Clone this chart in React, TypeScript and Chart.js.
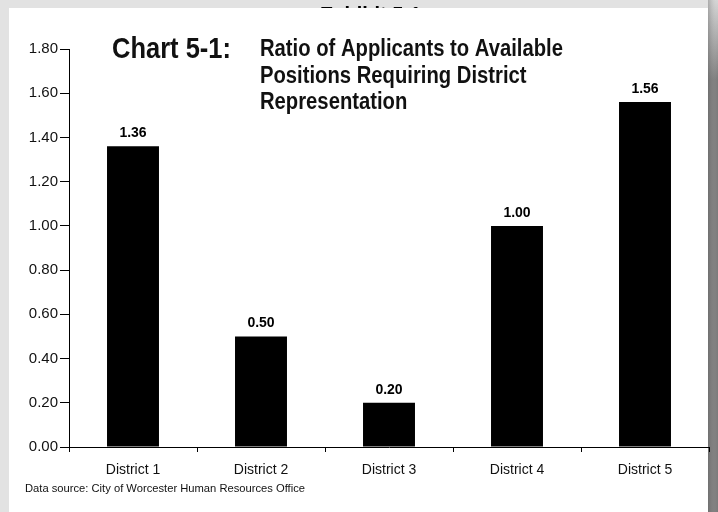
import React, { useEffect, useRef } from "react";
import { Chart, registerables } from "chart.js";

Chart.register(...registerables);

const categories = ["District 1", "District 2", "District 3", "District 4", "District 5"];
const ratios = [1.36, 0.5, 0.2, 1.0, 1.56];
const yMin = 0;
const yMax = 1.8;
const yStep = 0.2;
const titleMain = "Chart 5-1:";
const titleLines = ["Ratio of Applicants to Available", "Positions Requiring District", "Representation"];
const exhibitText = "Exhibit 5-1";
const sourceText = "Data source: City of Worcester Human Resources Office";

const FONT = "'Liberation Sans', Arial, Helvetica, sans-serif";

const decorPlugin = {
  id: "decor",
  beforeDraw(chart: any) {
    const ctx = chart.ctx as CanvasRenderingContext2D;
    const W = chart.width;
    const H = chart.height;
    ctx.save();
    ctx.fillStyle = "#e2e2e2";
    ctx.fillRect(0, 0, W, H);
    const g = ctx.createLinearGradient(0, 0, 0, 80);
    g.addColorStop(0, "#d6d6d6");
    g.addColorStop(1, "#7a7a7a");
    ctx.fillStyle = g;
    ctx.fillRect(708, 0, W - 708, H);
    const g2 = ctx.createLinearGradient(708, 0, W, 0);
    g2.addColorStop(0, "rgba(90,90,90,0.35)");
    g2.addColorStop(1, "rgba(230,230,230,0.0)");
    ctx.fillStyle = g2;
    ctx.fillRect(708, 0, W - 708, H);
    ctx.save();
    ctx.beginPath();
    ctx.rect(0, 0, W, 8);
    ctx.clip();
    ctx.fillStyle = "#000";
    ctx.font = `bold 20px ${FONT}`;
    ctx.textAlign = "left";
    ctx.textBaseline = "alphabetic";
    ctx.fillText(exhibitText, 320, 21);
    ctx.restore();
    ctx.fillStyle = "#ffffff";
    ctx.fillRect(9, 8, 699, H - 8);
    ctx.restore();
  },
  afterDraw(chart: any) {
    const ctx = chart.ctx as CanvasRenderingContext2D;
    ctx.save();
    ctx.fillStyle = "#111";
    ctx.textBaseline = "middle";
    ctx.textAlign = "left";
    ctx.save();
    ctx.translate(112, 50);
    ctx.scale(0.85, 1);
    ctx.font = `bold 30px ${FONT}`;
    ctx.fillText(titleMain, 0, 0);
    ctx.restore();
    const ys = [50, 77, 103];
    titleLines.forEach((t, i) => {
      ctx.save();
      ctx.translate(260, ys[i]);
      ctx.scale(0.88, 1);
      ctx.font = `bold 23px ${FONT}`;
      ctx.fillText(t, 0, 0);
      ctx.restore();
    });
    const meta = chart.getDatasetMeta(0);
    ctx.font = `bold 14px ${FONT}`;
    ctx.textAlign = "center";
    ctx.fillStyle = "#000";
    meta.data.forEach((bar: any, i: number) => {
      ctx.fillText(ratios[i].toFixed(2), bar.x, bar.y - 13);
    });
    ctx.font = `11.2px ${FONT}`;
    ctx.textAlign = "left";
    ctx.fillStyle = "#111";
    ctx.fillText(sourceText, 25, 489);
    ctx.restore();
  },
};

export default function App() {
  const ref = useRef<HTMLCanvasElement | null>(null);
  useEffect(() => {
    if (!ref.current) return;
    const chart = new Chart(ref.current, {
      type: "bar",
      data: {
        labels: categories,
        datasets: [
          {
            data: ratios,
            backgroundColor: "#000000",
            borderWidth: 0,
            categoryPercentage: 1,
            barPercentage: 0.406,
          },
        ],
      },
      options: {
        animation: false,
        responsive: false,
        devicePixelRatio: 1,
        layout: { padding: { left: 0, top: 49, right: 9, bottom: 0 } },
        plugins: {
          legend: { display: false },
          title: { display: false },
          tooltip: { enabled: false },
        },
        scales: {
          x: {
            grid: {
              display: true,
              drawOnChartArea: false,
              drawTicks: true,
              tickLength: 5,
              tickColor: "#000",
              offset: true,
            },
            border: { display: true, color: "#000", width: 1 },
            ticks: {
              color: "#111",
              font: { family: FONT, size: 14 },
              padding: 10,
              maxRotation: 0,
            },
            afterFit: (s: any) => {
              s.height = 65;
            },
          },
          y: {
            min: yMin,
            max: yMax,
            grid: {
              display: true,
              drawOnChartArea: false,
              drawTicks: true,
              tickLength: 9,
              tickColor: "#000",
            },
            border: { display: true, color: "#000", width: 1 },
            ticks: {
              stepSize: yStep,
              color: "#111",
              font: { family: FONT, size: 15 },
              padding: 2,
              callback: (v: any) => Number(v).toFixed(2),
            },
            afterFit: (s: any) => {
              s.width = 69;
            },
          },
        },
      },
      plugins: [decorPlugin],
    });
    return () => chart.destroy();
  }, []);
  return (
    <div style={{ position: "fixed", left: 0, top: 0, width: 718, height: 512 }}>
      <canvas ref={ref} width={718} height={512} style={{ width: 718, height: 512, display: "block" }} />
    </div>
  );
}
